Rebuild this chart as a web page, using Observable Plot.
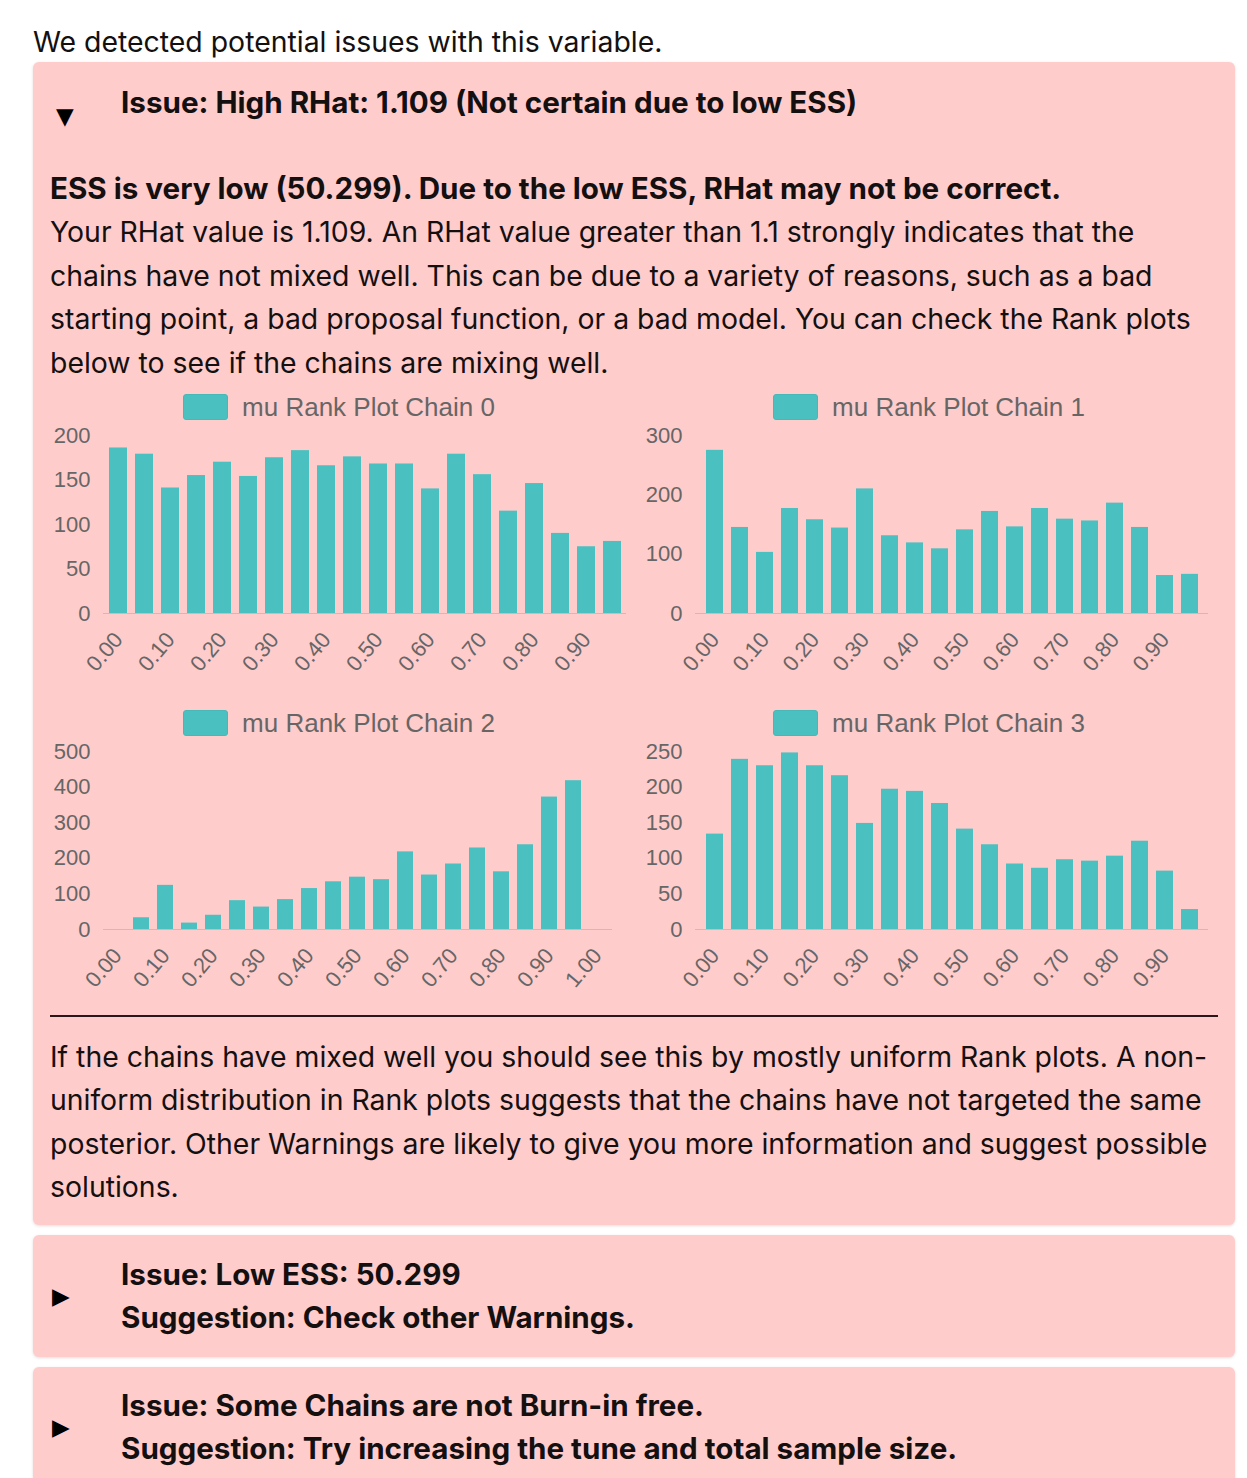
<!DOCTYPE html>
<html>
<head>
<meta charset="utf-8">
<script src="https://cdn.jsdelivr.net/npm/d3@7"></script>
<script src="https://cdn.jsdelivr.net/npm/@observablehq/plot@0.6"></script>
<style>
  html, body { margin: 0; padding: 0; background: #fff; }
  body { width: 1247px; height: 1478px; overflow: hidden; position: relative;
         font-family: Inter, "Noto Sans", sans-serif; color: #141010; font-size: 28.4px; }
  .abs { position: absolute; white-space: nowrap; }
  .box { position: absolute; left: 33px; width: 1202px; background: #ffcccc; border-radius: 6px;
         box-shadow: 0 1px 3px rgba(120,60,60,0.18); }
  .tri { position: absolute; font-family: "DejaVu Sans", sans-serif; font-size: 23px; line-height: 23px; color: #000; }
  .b { font-weight: 700; font-size: 29.6px; }
  .chart { position: absolute; width: 578px; }
  .legend { height: 30px; display: flex; align-items: center; justify-content: center; gap: 14px;
            font-family: "Liberation Sans", Arial, sans-serif; font-size: 26px; color: #666; }
  .legend .sw { width: 43px; height: 24px; background: #4bc0c0; border: 1px solid #46b8b8; border-radius: 3px; }
</style>
</head>
<body>
<div class="abs" style="left:33px; top:22px; line-height:40px;">We detected potential issues with this variable.</div>

<div class="box" style="top:62px; height:1163px;"></div>
<div class="tri" style="left:56px; top:105px;">▼</div>
<div class="abs b" style="left:121px; top:82px; line-height:40px;">Issue: High RHat: 1.109 (Not certain due to low ESS)</div>
<div class="abs" style="left:50px; top:167px; line-height:43.4px;">
<span class="b">ESS is very low (50.299). Due to the low ESS, RHat may not be correct.</span><br>
Your RHat value is 1.109. An RHat value greater than 1.1 strongly indicates that the<br>
chains have not mixed well. This can be due to a variety of reasons, such as a bad<br>
starting point, a bad proposal function, or a bad model. You can check the Rank plots<br>
below to see if the chains are mixing well.
</div>

<div class="chart" id="c0" style="left:50px; top:392px;"></div>
<div class="chart" id="c1" style="left:640px; top:392px;"></div>
<div class="chart" id="c2" style="left:50px; top:708px;"></div>
<div class="chart" id="c3" style="left:640px; top:708px;"></div>

<div style="position:absolute; left:50px; top:1015px; width:1168px; height:2px; background:#2a1818;"></div>
<div class="abs" style="left:50px; top:1035px; line-height:43.4px;">
If the chains have mixed well you should see this by mostly uniform Rank plots. A non-<br>
uniform distribution in Rank plots suggests that the chains have not targeted the same<br>
posterior. Other Warnings are likely to give you more information and suggest possible<br>
solutions.
</div>

<div class="box" style="top:1235px; height:122px;"></div>
<div class="tri" style="left:52px; top:1285px;">▶</div>
<div class="abs b" style="left:121px; top:1253px; line-height:43.4px;">Issue: Low ESS: 50.299<br>Suggestion: Check other Warnings.</div>

<div class="box" style="top:1367px; height:140px;"></div>
<div class="tri" style="left:52px; top:1416px;">▶</div>
<div class="abs b" style="left:121px; top:1384px; line-height:43.4px;">Issue: Some Chains are not Burn-in free.<br>Suggestion: Try increasing the tune and total sample size.</div>

<script>
// Rank bins (categories)
const bins20 = ["0.00","0.05","0.10","0.15","0.20","0.25","0.30","0.35","0.40","0.45",
                "0.50","0.55","0.60","0.65","0.70","0.75","0.80","0.85","0.90","0.95"];
const bins21 = ["0.00","0.05","0.10","0.15","0.20","0.25","0.30","0.35","0.40","0.45",
                "0.50","0.55","0.60","0.65","0.70","0.75","0.80","0.85","0.90","0.95","1.00"];
// Tick labels shown on the x axes
const xTicks20 = ["0.00","0.10","0.20","0.30","0.40","0.50","0.60","0.70","0.80","0.90"];
const xTicks21 = ["0.00","0.10","0.20","0.30","0.40","0.50","0.60","0.70","0.80","0.90","1.00"];
// Counts per rank bin
const chain0 = [186,179,141,155,170,154,175,183,166,176,168,168,140,179,156,115,146,90,75,81];
const chain1 = [275,145,103,177,158,144,210,131,119,109,141,172,146,177,159,156,186,145,64,66];
const chain2 = [0,33,124,18,40,81,63,84,115,134,147,140,218,153,184,229,162,238,372,418,0];
const chain3 = [134,239,230,248,230,216,149,197,194,177,141,119,92,86,98,96,103,124,82,28];
// y ticks
const yTicks0 = [0,50,100,150,200];
const yTicks1 = [0,100,200,300];
const yTicks2 = [0,100,200,300,400,500];
const yTicks3 = [0,50,100,150,200,250];
const titles = ["mu Rank Plot Chain 0","mu Rank Plot Chain 1","mu Rank Plot Chain 2","mu Rank Plot Chain 3"];

function rankChart(id, title, bins, values, xt, yt, ml, mr) {
  const el = document.getElementById(id);
  const lg = document.createElement("div");
  lg.className = "legend";
  lg.innerHTML = '<div class="sw"></div><div></div>';
  lg.lastChild.textContent = title;
  el.appendChild(lg);
  const data = bins.map((b, i) => ({bin: b, count: values[i]}));
  const svg = Plot.plot({
    width: 578, height: 261,
    marginTop: 13, marginBottom: 70, marginLeft: ml, marginRight: mr,
    style: {background: "transparent", fontFamily: "'Liberation Sans', Arial, sans-serif", fontSize: "22px", color: "#666", overflow: "visible"},
    x: {domain: bins, paddingInner: 0.32, paddingOuter: 0.16, label: null, ticks: xt, tickRotate: -50, tickSize: 0, tickPadding: 22},
    y: {domain: [0, yt[yt.length - 1]], ticks: yt, label: null, tickSize: 0, tickPadding: 13},
    marks: [
      Plot.ruleY([0], {stroke: "rgba(0,0,0,0.12)"}),
      Plot.barY(data, {x: "bin", y: "count", fill: "#4bc0c0"})
    ]
  });
  svg.style.display = "block";
  el.appendChild(svg);
}
rankChart("c0", titles[0], bins20, chain0, xTicks20, yTicks0, 53, 2);
rankChart("c1", titles[1], bins20, chain1, xTicks20, yTicks1, 55, 10);
rankChart("c2", titles[2], bins21, chain2, xTicks21, yTicks2, 53, 16);
rankChart("c3", titles[3], bins20, chain3, xTicks20, yTicks3, 55, 10);
</script>
</body>
</html>
